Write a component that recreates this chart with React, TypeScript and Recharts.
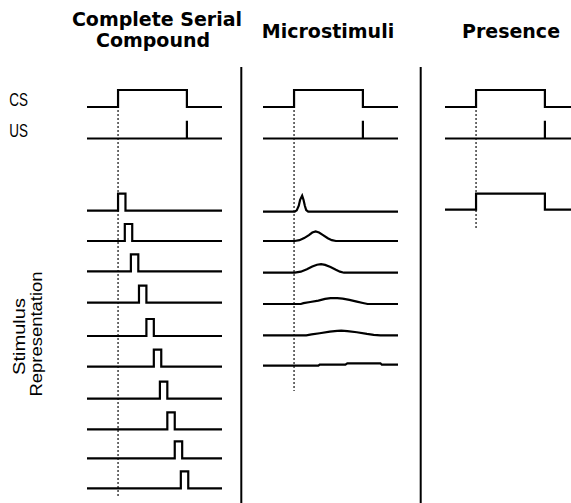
import React from 'react';
import { LineChart, Line, XAxis, YAxis, ReferenceLine } from 'recharts';

// ---------- data (time steps 0..200, amplitudes in "pulse units") ----------
const T_DOMAIN: [number, number] = [0, 200];
const CS_ON = 46;
const CS_OFF = 148;
const US_TIME = 148;

const CS_TIMES = [0, CS_ON, CS_ON, CS_OFF, CS_OFF, 200];
const CS_VALUES = [0, 0, 1, 1, 0, 0];

const US_TIMES = [0, US_TIME, US_TIME, US_TIME, 200];
const US_VALUES = [0, 0, 1.04, 0, 0];

const PRESENCE_TIMES = [0, CS_ON, CS_ON, CS_OFF, CS_OFF, 200];
const PRESENCE_VALUES = [0, 0, 0.95, 0.95, 0, 0];

// Complete serial compound: one brief pulse per time bin
const CSC_STARTS = [46, 56, 65, 77, 88, 99, 108, 119, 130, 139];
const CSC_WIDTH = 11;

// Microstimuli traces
const MS1_T = [0, 47, 50, 53, 55, 58, 60, 62, 64, 67, 200];
const MS1_V = [0, 0, 0.08, 0.35, 0.7, 0.94, 0.7, 0.35, 0.1, 0, 0];
const MS2_T = [0, 47, 54, 61, 68, 73, 78, 83, 89, 96, 102, 108, 200];
const MS2_V = [0, 0, 0.05, 0.17, 0.35, 0.5, 0.56, 0.5, 0.35, 0.16, 0.05, 0, 0];
const MS3_T = [0, 47, 56, 65, 73, 80, 86, 92, 100, 108, 114, 120, 200];
const MS3_V = [0, 0, 0.06, 0.2, 0.36, 0.47, 0.5, 0.46, 0.33, 0.17, 0.06, 0, 0];
const MS4_T = [0, 56, 60, 70, 82, 92, 100, 110, 118, 128, 139, 148, 155, 200];
const MS4_V = [0, 0, 0.05, 0.12, 0.2, 0.3, 0.34, 0.34, 0.32, 0.24, 0.14, 0.06, 0, 0];
const MS5_T = [0, 64, 72, 84, 99, 110, 116, 125, 139, 154, 164, 174, 200];
const MS5_V = [0, 0, 0.05, 0.12, 0.22, 0.26, 0.28, 0.25, 0.18, 0.08, 0.03, 0, 0];
const MS6_T = [0, 82, 84, 122, 125, 174, 176, 200];
const MS6_V = [0, 0, 0.06, 0.06, 0.14, 0.14, 0.06, 0.06];

const MS_TIMES = [MS1_T, MS2_T, MS3_T, MS4_T, MS5_T, MS6_T];
const MS_VALUES = [MS1_V, MS2_V, MS3_V, MS4_V, MS5_V, MS6_V];

// ---------- layout ----------
const W = 571;
const H = 503;
const SPAN = 135; // px covered by the time domain
const PAD = 6;
const AMP_PX = 17;
const CS_Y = 107;
const US_Y = 138.5;
const CSC_ROW_Y = [210.7, 241, 271.3, 302.7, 336, 366.7, 398.7, 429.3, 458.3, 488.3];
const MS_ROW_Y = [211.7, 241, 272.7, 304, 335.3, 365.7];
const PRESENCE_Y = 209.7;

type Pt = { t: number; v: number };
type Row = { id: string; baseline: number; points: Pt[]; curve: 'linear' | 'monotone' };

const zip = (ts: number[], vs: number[]): Pt[] => ts.map((t, i) => ({ t, v: vs[i] }));
const pulse = (start: number): Pt[] =>
  zip([0, start, start, start + CSC_WIDTH, start + CSC_WIDTH, 200], [0, 0, 1, 1, 0, 0]);

const commonRows = (): Row[] => [
  { id: 'cs', baseline: CS_Y, points: zip(CS_TIMES, CS_VALUES), curve: 'linear' },
  { id: 'us', baseline: US_Y, points: zip(US_TIMES, US_VALUES), curve: 'linear' },
];

const panel1Rows: Row[] = [
  ...commonRows(),
  ...CSC_STARTS.map((s, i) => ({ id: `csc${i}`, baseline: CSC_ROW_Y[i], points: pulse(s), curve: 'linear' as const })),
];
const panel2Rows: Row[] = [
  ...commonRows(),
  ...MS_TIMES.map((ts, i) => ({ id: `ms${i}`, baseline: MS_ROW_Y[i], points: zip(ts, MS_VALUES[i]), curve: 'linear' as const })),
];
const panel3Rows: Row[] = [
  ...commonRows(),
  { id: 'pres', baseline: PRESENCE_Y, points: zip(PRESENCE_TIMES, PRESENCE_VALUES), curve: 'linear' },
];

const Panel = ({ start, rows, dotTop, dotBottom }: { start: number; rows: Row[]; dotTop: number; dotBottom: number }) => (
  <div style={{ position: 'absolute', left: start - PAD, top: 0 }}>
    <LineChart width={SPAN + 2 * PAD} height={H} margin={{ top: 0, right: PAD, bottom: 0, left: PAD }}>
      <XAxis type="number" dataKey="t" domain={T_DOMAIN} hide allowDataOverflow />
      <YAxis yAxisId="px" type="number" domain={[0, H]} reversed hide allowDataOverflow />
      {rows.map((r) => (
        <YAxis
          key={`ax-${r.id}`}
          yAxisId={r.id}
          type="number"
          domain={[-(H - r.baseline) / AMP_PX, r.baseline / AMP_PX]}
          hide
          allowDataOverflow
        />
      ))}
      <ReferenceLine
        yAxisId="px"
        segment={[{ x: CS_ON, y: dotTop }, { x: CS_ON, y: dotBottom }]}
        stroke="#222"
        strokeWidth={1.3}
        strokeDasharray="2 2"
        ifOverflow="visible"
      />
      {rows.map((r) => (
        <Line
          key={r.id}
          yAxisId={r.id}
          data={r.points}
          dataKey="v"
          type={r.curve}
          stroke="#000"
          strokeWidth={2.2}
          dot={false}
          activeDot={false}
          isAnimationActive={false}
        />
      ))}
    </LineChart>
  </div>
);

const TITLE_FONT = { fontFamily: '"DejaVu Sans", Verdana, sans-serif', fontWeight: 700, fontSize: 19 } as const;
const LABEL_FONT = '"Liberation Sans Narrow", "Liberation Sans", Arial, sans-serif';

export default function App() {
  return (
    <div style={{ position: 'fixed', left: 0, top: 0, width: W, height: H, overflow: 'hidden', background: '#fff' }}>
      <Panel start={87} rows={panel1Rows} dotTop={110} dotBottom={496} />
      <Panel start={263} rows={panel2Rows} dotTop={110} dotBottom={391} />
      <Panel start={445} rows={panel3Rows} dotTop={110} dotBottom={228} />
      <svg width={W} height={H} style={{ position: 'absolute', left: 0, top: 0, pointerEvents: 'none' }}>
        <text x={157} y={26} textAnchor="middle" {...TITLE_FONT}>Complete Serial</text>
        <text x={153} y={46.5} textAnchor="middle" {...TITLE_FONT}>Compound</text>
        <text x={328} y={38.3} textAnchor="middle" {...TITLE_FONT}>Microstimuli</text>
        <text x={511} y={38.3} textAnchor="middle" {...TITLE_FONT}>Presence</text>
        <text x={9.3} y={105.7} fontFamily={LABEL_FONT} fontSize={18.5} textLength={18.7} lengthAdjust="spacingAndGlyphs">CS</text>
        <text x={9.3} y={137.3} fontFamily={LABEL_FONT} fontSize={18.5} textLength={18.7} lengthAdjust="spacingAndGlyphs">US</text>
        <text transform="translate(25,336.5) rotate(-90)" textAnchor="middle" fontFamily={LABEL_FONT} fontSize={16} textLength={77} lengthAdjust="spacingAndGlyphs">Stimulus</text>
        <text transform="translate(42,334) rotate(-90)" textAnchor="middle" fontFamily={LABEL_FONT} fontSize={16} textLength={125} lengthAdjust="spacingAndGlyphs">Representation</text>
        <line x1={241.3} y1={67} x2={241.3} y2={H} stroke="#000" strokeWidth={2} />
        <line x1={420.7} y1={67} x2={420.7} y2={H} stroke="#000" strokeWidth={2} />
      </svg>
    </div>
  );
}
